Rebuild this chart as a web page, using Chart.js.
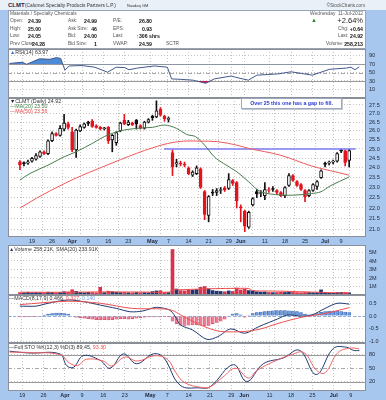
<!DOCTYPE html>
<html>
<head>
<meta charset="utf-8">
<script src="https://cdn.jsdelivr.net/npm/chart.js@4.4.1/dist/chart.umd.min.js"></script>
<style>
  html, body { margin: 0; padding: 0; }
  body { width: 386px; height: 400px; overflow: hidden; position: relative; background: #a7c7ef; font-family: "Liberation Sans", Arial, sans-serif; }
  canvas { position: absolute; left: 0; }
  .strip { position: absolute; left: 0; top: 0; width: 386px; height: 10px; background: #eaf0f7; }
  .info { position: absolute; left: 8px; top: 10px; width: 356px; height: 37px; background: #fff; border: 1px solid #98a4b4; }
  .t { position: absolute; white-space: nowrap; font-size: 4.8px; line-height: 6px; color: #555; z-index: 2; }
  .v { font-weight: bold; color: #111; font-size: 5.2px; }
  .lbl { color: #333; font-size: 5.3px; }
  .note { position: absolute; left: 241px; top: 98px; width: 99px; height: 9px; background: #fff; border: 1px solid #9aa8c0; box-shadow: 1px 1px 0 #c4c8d0; z-index: 2;
          font-size: 5.3px; line-height: 9px; font-weight: bold; color: #2a3ad0; text-align: center; white-space: nowrap; }
</style>
</head>
<body>
<div class="strip"></div>
<div class="info"></div>

<canvas id="rsi" width="386" height="49" style="top:49px"></canvas>
<canvas id="price" width="386" height="148" style="top:98px"></canvas>
<canvas id="vol" width="386" height="50" style="top:245px"></canvas>
<canvas id="macd" width="386" height="48" style="top:295px"></canvas>
<canvas id="sto" width="386" height="57" style="top:343px"></canvas>

<!-- title and quote box -->
<div class="t" style="left:8px;top:1.5px;font-size:6px;line-height:7px;font-weight:bold;color:#1a2a4a">CLMT</div>
<div class="t" style="left:25px;top:2.5px;font-size:4.8px;color:#333">(Calumet Specialty Products Partners L.P.)</div>
<div class="t" style="left:127px;top:3px;font-size:4px;color:#333">Nasdaq GM</div>
<div class="t" style="right:21px;top:2.5px;font-size:4.6px;color:#555">&copy;StockCharts.com</div>

<div class="t" style="left:10px;top:11px">Materials / Specialty Chemicals</div>
<div class="t" style="right:23px;top:11px">Wednesday&nbsp; 11-Jul-2012</div>

<div class="t" style="left:10px;top:17.5px">Open:</div>
<div class="t v" style="right:345px;top:17.5px">24.39</div>
<div class="t" style="left:68px;top:17.5px">Ask:</div>
<div class="t v" style="right:289px;top:17.5px">24.99</div>
<div class="t" style="left:113px;top:17.5px">P/E:</div>
<div class="t v" style="right:234px;top:17.5px">26.80</div>
<div class="t" style="left:311px;top:17px;font-size:6px;line-height:7px;color:#2f7d2f">&#9650;</div>
<div class="t" style="right:23px;top:16.5px;font-size:7.5px;line-height:8px;color:#222">+2.64%</div>

<div class="t" style="left:10px;top:25.5px">High:</div>
<div class="t v" style="right:345px;top:25.5px">25.00</div>
<div class="t" style="left:68px;top:25.5px">Ask Size:</div>
<div class="t v" style="right:289px;top:25.5px">46</div>
<div class="t" style="left:113px;top:25.5px">EPS:</div>
<div class="t v" style="right:234px;top:25.5px">0.93</div>
<div class="t" style="left:338px;top:25.5px">Chg:</div>
<div class="t v" style="right:23px;top:25.5px">+0.64</div>

<div class="t" style="left:10px;top:33px">Low:</div>
<div class="t v" style="right:345px;top:33px">24.05</div>
<div class="t" style="left:68px;top:33px">Bid:</div>
<div class="t v" style="right:289px;top:33px">24.00</div>
<div class="t" style="left:113px;top:33px">Last:</div>
<div class="t v" style="right:226px;top:33px"><span style="color:#2f7d2f">&#8593;</span>306 shrs</div>
<div class="t" style="left:338px;top:33px">Last:</div>
<div class="t v" style="right:23px;top:33px">24.92</div>

<div class="t" style="left:10px;top:41px">Prev Close:</div>
<div class="t v" style="right:341px;top:41px">24.28</div>
<div class="t" style="left:68px;top:41px">Bid Size:</div>
<div class="t v" style="right:289px;top:41px">1</div>
<div class="t" style="left:113px;top:41px">VWAP:</div>
<div class="t v" style="right:234px;top:41px">24.59</div>
<div class="t" style="left:166px;top:41px">SCTR</div>
<div class="t" style="left:326px;top:41px">Volume:</div>
<div class="t v" style="right:23px;top:41px">258,213</div>

<!-- panel legends -->
<div class="t lbl" style="left:10px;top:48.5px"><span style="color:#3a6fc4">&#9650;</span>RSI(14) 63.97</div>
<div class="t lbl" style="left:10px;top:98px"><span style="color:#222">&#9660;</span>CLMT (Daily) 24.92</div>
<div class="t lbl" style="left:10px;top:102.5px;color:#3f7f47">&#8212;MA(20) 23.50</div>
<div class="t lbl" style="left:10px;top:107.5px;color:#e84848">&#8212;MA(50) 23.56</div>
<div class="note">Over 25 this one has a gap to fill.</div>
<div class="t lbl" style="left:9px;top:245.5px"><span style="color:#1f3a73">&#9650;</span>Volume 258.21K, SMA(20) 233.91K</div>
<div class="t lbl" style="left:9px;top:294.5px"><span style="color:#1f3a73">&#8212;</span>MACD(8,17,9) 0.466, <span style="color:#f05050">0.327</span>, <span style="color:#7aa6e6">0.140</span></div>
<div class="t lbl" style="left:9px;top:343.5px"><span style="color:#1f3a73">&#8212;</span>Full STO %K(12,3) %D(3) 89.45, <span style="color:#f05050">93.30</span></div>

<script>
// trading days 14-Mar-2012 .. 11-Jul-2012, index 0..82
const tickIdx = [3, 8, 13, 17, 22, 27, 33, 37, 42, 47, 52, 55, 61, 66, 71, 76, 80];
const tickLab = ['19', '26', 'Apr', '9', '16', '23', 'May', '7', '14', '21', '29', 'Jun', '11', '18', '25', 'Jul', '9'];
const monthLab = ['Apr', 'May', 'Jun', 'Jul'];

const opens = [24.30, 24.28, 24.25, 24.35, 24.45, 24.60, 24.85, 24.75, 25.45, 25.85, 25.75, 26.10, 26.40, 25.95, 24.95, 26.00, 26.20, 26.50, 26.55, 26.28, 26.20, 26.12, 26.20, 25.50, 25.35, 26.00, 26.60, 26.35, 26.45, 26.62, 26.30, 26.15, 26.50, 26.85, 26.80, 27.25, 26.85, 26.65, 24.80, 24.20, 24.25, 24.20, 24.00, 23.62, 23.70, 23.95, 22.80, 21.65, 22.75, 22.75, 22.85, 22.98, 22.95, 23.35, 23.25, 22.05, 21.85, 21.10, 22.15, 22.80, 22.70, 22.60, 22.85, 22.95, 22.85, 22.75, 22.60, 23.10, 23.60, 23.30, 23.15, 22.85, 22.60, 22.85, 23.05, 23.50, 24.20, 24.25, 24.30, 24.35, 24.95, 24.90, 24.39];
const highs = [24.38, 24.32, 24.40, 24.55, 24.75, 24.90, 24.90, 25.50, 25.95, 25.90, 26.30, 26.95, 26.50, 26.20, 26.10, 26.35, 26.45, 26.55, 26.65, 26.35, 26.25, 26.20, 26.25, 25.80, 25.95, 26.50, 26.95, 26.60, 26.50, 26.65, 26.35, 26.55, 26.70, 26.90, 27.75, 27.35, 26.90, 26.80, 24.95, 24.45, 24.35, 24.30, 24.05, 23.85, 24.10, 24.00, 22.85, 22.60, 22.90, 22.95, 23.00, 23.05, 23.70, 23.40, 23.30, 22.15, 21.90, 21.85, 22.50, 22.90, 22.85, 23.25, 23.00, 23.05, 22.90, 22.80, 23.05, 23.70, 23.65, 23.35, 23.20, 22.90, 22.90, 23.20, 23.35, 23.90, 24.30, 24.35, 24.40, 24.80, 25.00, 24.95, 25.00];
const lows = [23.90, 24.10, 24.18, 24.30, 24.40, 24.55, 24.70, 24.70, 25.40, 25.70, 25.70, 26.00, 26.10, 24.85, 24.55, 25.95, 26.15, 26.30, 26.20, 26.15, 26.05, 26.05, 25.30, 24.85, 25.20, 25.95, 26.35, 26.30, 26.30, 26.10, 26.10, 26.10, 26.45, 26.60, 26.75, 26.85, 26.55, 26.50, 23.60, 24.05, 24.10, 24.05, 23.65, 23.55, 23.65, 22.95, 21.45, 21.35, 22.60, 22.60, 22.70, 22.80, 22.90, 23.10, 22.00, 21.35, 20.90, 21.05, 22.10, 22.50, 22.55, 22.40, 22.75, 22.80, 22.65, 22.55, 22.50, 23.05, 23.30, 23.05, 22.85, 22.30, 22.55, 22.80, 22.90, 23.45, 24.05, 24.15, 24.20, 24.30, 24.80, 24.10, 24.05];
const closes = [24.15, 24.20, 24.32, 24.50, 24.65, 24.85, 24.75, 25.45, 25.85, 25.75, 26.15, 26.45, 26.20, 24.95, 26.05, 26.25, 26.40, 26.42, 26.25, 26.20, 26.12, 26.14, 25.45, 25.75, 25.90, 26.45, 26.40, 26.50, 26.35, 26.40, 26.15, 26.50, 26.65, 26.75, 27.15, 26.90, 26.70, 26.72, 24.05, 24.27, 24.20, 24.15, 23.70, 23.78, 24.00, 23.00, 21.70, 22.55, 22.72, 22.85, 22.90, 22.88, 23.40, 23.20, 22.35, 22.00, 21.15, 21.80, 22.45, 22.68, 22.72, 22.90, 22.86, 22.90, 22.75, 22.60, 23.00, 23.60, 23.35, 23.10, 22.90, 22.55, 22.85, 23.15, 23.30, 23.85, 24.18, 24.28, 24.32, 24.75, 24.88, 24.28, 24.92];
const volumes = [280, 250, 320, 260, 300, 280, 260, 330, 300, 250, 300, 380, 350, 620, 420, 300, 260, 300, 290, 250, 900, 280, 450, 380, 320, 280, 300, 260, 250, 300, 270, 280, 260, 400, 480, 500, 300, 280, 5350, 700, 520, 480, 620, 560, 650, 900, 1000, 720, 520, 450, 420, 380, 480, 420, 820, 600, 680, 520, 480, 380, 340, 350, 300, 280, 300, 320, 300, 350, 300, 280, 260, 300, 280, 260, 280, 600, 300, 200, 220, 280, 300, 300, 258];

// overlay lines (index, value)
const ma20X = [0, 2.5, 7, 11, 14, 18, 21, 25, 29, 33, 36, 39, 41.5, 43.7, 46, 48.4, 50.7, 54, 57, 60, 65, 69, 72.6, 75, 77.3, 82];
const ma20Y = [23.37, 23.71, 24.14, 24.58, 24.85, 25.30, 25.68, 26.00, 26.14, 26.20, 26.33, 26.14, 25.80, 25.68, 25.21, 24.58, 24.23, 23.80, 23.28, 22.79, 22.63, 22.63, 22.70, 22.79, 23.08, 23.53];
const ma50X = [0, 5.6, 13.4, 21.2, 29, 33, 36.8, 40.7, 44.6, 49.2, 54, 57, 64.8, 72.6, 79, 82];
const ma50Y = [22.00, 22.63, 23.42, 24.10, 24.76, 25.06, 25.30, 25.43, 25.43, 25.40, 25.21, 25.03, 24.67, 24.10, 23.77, 23.62];
const gapLineX = [35.9, 83.6];
const gapLineY = [25.0, 25.0];

const rsiX = [0, 3, 4, 7, 9.5, 11, 12, 13, 14, 17, 20, 23, 25, 27, 28, 30, 34, 37, 38, 40, 43, 46, 48, 52, 53, 56, 58, 63, 66, 71, 75, 79, 80, 81, 82];
const rsiY = [72, 75, 70, 83, 82, 86, 84, 56, 66, 67, 63, 51, 63, 62, 57, 61, 66, 63, 35, 34, 32, 24.5, 35, 42, 39, 32, 44, 47, 52, 44, 58, 61, 63, 57, 64];

const volSmaX = [0, 10, 20, 30, 37, 38, 40, 45, 50, 55, 57, 58, 62, 66, 70, 74, 78, 82];
const volSmaY = [330, 320, 360, 350, 340, 600, 620, 700, 760, 780, 760, 520, 470, 440, 380, 330, 270, 234];

const macdX = [0, 4, 7, 12, 16, 20, 24, 27.5, 30.6, 33.7, 36, 37.6, 39, 40, 43, 46.6, 49.3, 52.5, 56, 59.5, 64.2, 66.5, 70.4, 72.8, 76, 79, 82];
const macdY = [0.39, 0.39, 0.50, 0.63, 0.56, 0.43, 0.30, 0.17, 0.20, 0.34, 0.30, 0.20, -0.10, -0.35, -0.54, -0.91, -0.80, -0.50, -0.67, -0.41, -0.11, 0.04, 0.00, 0.05, 0.30, 0.50, 0.47];
const signalX = [0, 12, 20, 28, 36, 38, 40, 43, 46.6, 50, 56, 60, 64, 70, 76, 82];
const signalY = [0.45, 0.58, 0.50, 0.30, 0.28, 0.22, 0.05, -0.20, -0.45, -0.60, -0.60, -0.50, -0.30, -0.05, 0.10, 0.33];
const histY = [-0.03, -0.03, -0.02, -0.02, -0.01, 0.00, 0.04, 0.08, 0.10, 0.12, 0.12, 0.10, 0.08, 0.00, -0.04, -0.06, -0.08, -0.10, -0.12, -0.14, -0.15, -0.14, -0.15, -0.14, -0.12, -0.10, -0.10, -0.12, -0.10, -0.08, -0.06, -0.04, -0.03, -0.03, -0.03, -0.03, -0.02, -0.02, -0.20, -0.30, -0.35, -0.36, -0.35, -0.34, -0.33, -0.35, -0.38, -0.36, -0.30, -0.25, -0.20, -0.12, 0.00, 0.08, 0.10, 0.05, -0.04, 0.02, 0.10, 0.14, 0.16, 0.18, 0.20, 0.21, 0.22, 0.22, 0.22, 0.21, 0.20, 0.18, 0.14, 0.08, 0.05, 0.06, 0.10, 0.15, 0.18, 0.20, 0.19, 0.20, 0.18, 0.16, 0.14];

const stoKX = [0, 4.6, 11.8, 13.4, 15, 17.3, 21.2, 23.6, 26.7, 29.8, 33.7, 36.1, 40, 44.7, 47, 52.5, 55.6, 59.5, 64.2, 68, 71.9, 75.9, 79, 80.6, 82];
const stoKY = [88, 84, 82, 56, 52, 78, 68, 50, 82, 60, 82, 74, 12, 6, 8, 58, 20, 60, 73, 90, 36, 94, 97, 90, 89.5];
const stoDX = [0, 5, 12, 14, 16, 18, 22, 24, 27, 30, 34, 37, 39, 41, 45, 47, 50, 53, 56, 58, 62, 66, 69, 72, 74, 77, 80, 82];
const stoDY = [86, 85, 80, 62, 56, 70, 66, 55, 75, 66, 78, 70, 40, 18, 7, 8, 30, 50, 28, 45, 65, 80, 85, 45, 40, 85, 95, 93];

const FONT = '"Liberation Sans", Arial, sans-serif';
const X_MIN = -0.35;
const X_MAX = 83.57;

const pts = (xs, ys) => xs.map((x, i) => ({ x, y: ys[i] }));
const idx = opens.map((_, i) => i);

const panelPlugin = {
    id: 'panel',
    beforeDraw(chart) {
        const { ctx, chartArea: a } = chart;
        ctx.save();
        ctx.fillStyle = '#ffffff';
        ctx.fillRect(a.left, a.top, a.right - a.left, a.bottom - a.top);
        ctx.restore();
    },
    beforeDatasetsDraw(chart, args, opts) {
        const { ctx, chartArea: a } = chart;
        const y = chart.scales.y;
        ctx.save();
        (opts.refs || []).forEach((r) => {
            const py = Math.round(y.getPixelForValue(r.value)) + 0.5;
            ctx.strokeStyle = r.color;
            ctx.lineWidth = 1;
            ctx.setLineDash(r.dash || []);
            ctx.beginPath();
            ctx.moveTo(a.left, py);
            ctx.lineTo(a.right, py);
            ctx.stroke();
        });
        ctx.restore();
    },
    afterDraw(chart) {
        const { ctx, chartArea: a } = chart;
        ctx.save();
        ctx.strokeStyle = '#8a8f98';
        ctx.lineWidth = 1;
        ctx.strokeRect(a.left + 0.5, a.top + 0.5, a.right - a.left - 1, a.bottom - a.top - 1);
        ctx.restore();
    },
};

function xScale(showLabels) {
    return {
        type: 'linear',
        min: X_MIN,
        max: X_MAX,
        afterBuildTicks(scale) {
            scale.ticks = tickIdx.map((v) => ({ value: v }));
        },
        afterFit(scale) {
            scale.height = showLabels ? 9 : 0;
            scale.paddingLeft = 0;
            scale.paddingRight = 0;
        },
        grid: { color: '#c4c4c4', drawTicks: false, lineWidth: 1 },
        border: { display: false, dash: [1, 2] },
        ticks: {
            display: showLabels,
            autoSkip: false,
            maxRotation: 0,
            padding: 1.5,
            color: '#1e2433',
            font: (c) => ({ size: 5.5, family: FONT, weight: monthLab.includes(tickLab[c.index]) ? 'bold' : 'normal' }),
            callback: (v, i) => tickLab[i],
        },
    };
}

function yScale(type, min, max, ticks, fmt) {
    return {
        type,
        position: 'right',
        min,
        max,
        afterBuildTicks(scale) {
            scale.ticks = ticks.map((v) => ({ value: v }));
        },
        afterFit(scale) {
            scale.width = 20;
            scale.paddingTop = 0;
            scale.paddingBottom = 0;
        },
        grid: { color: '#c4c4c4', drawTicks: false, lineWidth: 1 },
        border: { display: false, dash: [1, 2] },
        ticks: { autoSkip: false, color: '#1e2433', padding: 3, font: { size: 5.5, family: FONT }, callback: fmt },
    };
}

function baseOptions(x, y, refs) {
    return {
        responsive: false,
        animation: false,
        devicePixelRatio: 1,
        layout: { padding: { left: 8, right: 0, top: 0, bottom: 0 } },
        plugins: { legend: { display: false }, tooltip: { enabled: false }, panel: { refs: refs || [] } },
        scales: { x, y },
    };
}

function lineSet(data, color, extra) {
    return Object.assign({ type: 'line', data, borderColor: color, borderWidth: 1, pointRadius: 0, fill: false, order: 0 }, extra || {});
}

// candle colours: black when the close beat the prior close, red otherwise; hollow when close >= open
const candleColor = closes.map((c, i) => (c >= (i ? closes[i - 1] : opens[0]) ? '#111111' : '#e3141e'));
const candleFill = closes.map((c, i) => (c >= opens[i] ? '#ffffff' : candleColor[i]));

new Chart(document.getElementById('rsi'), {
    type: 'line',
    data: {
        datasets: [
            lineSet(pts(rsiX, rsiY), '#45598c', { fill: { target: { value: 70 }, above: '#4f8ad6', below: 'rgba(0,0,0,0)' } }),
            lineSet(pts(rsiX, rsiY), 'rgba(0,0,0,0)', { borderWidth: 0, order: 1, fill: { target: { value: 30 }, above: 'rgba(0,0,0,0)', below: '#d4145a' } }),
        ],
    },
    options: baseOptions(xScale(false), yScale('linear', -10.7, 106.6, [10, 30, 50, 70, 90], (v) => String(v)), [
        { value: 70, color: '#9a9a9a' },
        { value: 30, color: '#9a9a9a' },
        { value: 50, color: '#a8a8a8', dash: [4, 2, 1, 2] },
    ]),
    plugins: [panelPlugin],
});

new Chart(document.getElementById('price'), {
    type: 'bar',
    data: {
        datasets: [
            {
                type: 'bar',
                data: idx.map((i) => ({ x: i, y: [lows[i], highs[i]] })),
                backgroundColor: candleColor,
                barThickness: 1,
                grouped: false,
                order: 2,
            },
            {
                type: 'bar',
                data: idx.map((i) => ({ x: i, y: [opens[i], closes[i]] })),
                backgroundColor: candleFill,
                borderColor: candleColor,
                borderWidth: 1,
                borderSkipped: false,
                minBarLength: 1,
                barThickness: 3,
                grouped: false,
                order: 1,
            },
            lineSet(pts(ma50X, ma50Y), '#f05a5a', { tension: 0.35 }),
            lineSet(pts(ma20X, ma20Y), '#4a7d4f', { tension: 0.35 }),
            lineSet(pts(gapLineX, gapLineY), '#7c7cf4', { borderWidth: 1.5 }),
        ],
    },
    options: baseOptions(xScale(true), yScale('logarithmic', 20.66, 27.92,
        [21, 21.5, 22, 22.5, 23, 23.5, 24, 24.5, 25, 25.5, 26, 26.5, 27, 27.5], (v) => v.toFixed(1))),
    plugins: [panelPlugin],
});

new Chart(document.getElementById('vol'), {
    type: 'bar',
    data: {
        datasets: [
            {
                type: 'bar',
                data: idx.map((i) => ({ x: i, y: volumes[i] * 1000 })),
                backgroundColor: candleColor.map((c) => (c === '#111111' ? '#1f3570' : '#d8344c')),
                barThickness: 3,
                grouped: false,
                order: 1,
            },
            lineSet(pts(volSmaX, volSmaY.map((v) => v * 1000)), '#ee4a4a', { tension: 0.3 }),
        ],
    },
    options: baseOptions(xScale(false), yScale('linear', 0, 5.88e6, [1e6, 2e6, 3e6, 4e6, 5e6], (v) => v / 1e6 + 'M')),
    plugins: [panelPlugin],
});

new Chart(document.getElementById('macd'), {
    type: 'bar',
    data: {
        datasets: [
            {
                type: 'bar',
                data: idx.map((i) => ({ x: i, y: histY[i] })),
                backgroundColor: histY.map((v) => (v >= 0 ? '#6d9be0' : '#f27a92')),
                borderColor: histY.map((v) => (v >= 0 ? '#2e5aa8' : '#d63a5a')),
                borderWidth: 0.5,
                barThickness: 3,
                grouped: false,
                order: 1,
            },
            lineSet(pts(signalX, signalY), '#f05050', { tension: 0.3 }),
            lineSet(pts(macdX, macdY), '#1f3a73', { tension: 0.3 }),
        ],
    },
    options: baseOptions(xScale(false), yScale('linear', -1.05, 0.824, [-1, -0.5, 0, 0.5], (v) => v.toFixed(1)), [
        { value: 0, color: '#8fb0de', dash: [3, 2] },
    ]),
    plugins: [panelPlugin],
});

new Chart(document.getElementById('sto'), {
    type: 'line',
    data: {
        datasets: [
            lineSet(pts(stoDX, stoDY), '#f26464', { tension: 0.4 }),
            lineSet(pts(stoKX, stoKY), '#1f3a73', { tension: 0.4 }),
        ],
    },
    options: baseOptions(xScale(true), yScale('linear', -1, 106.4, [20, 50, 80], (v) => String(v)), [
        { value: 80, color: '#9a9a9a' },
        { value: 20, color: '#9a9a9a' },
        { value: 50, color: '#a8a8a8', dash: [4, 2, 1, 2] },
    ]),
    plugins: [panelPlugin],
});
</script>
</body>
</html>
